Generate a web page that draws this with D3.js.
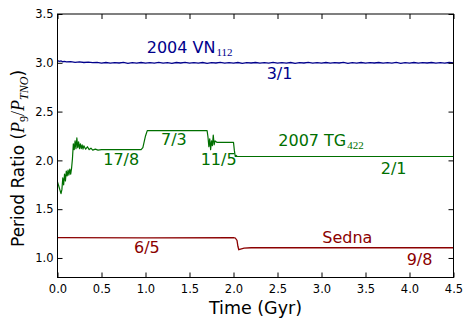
<!DOCTYPE html>
<html><head><meta charset="utf-8">
<script src="https://cdn.jsdelivr.net/npm/d3@7"></script>
<style>
html,body{margin:0;padding:0;background:#fff;}
svg{display:block;}
text{font-family:"DejaVu Sans",sans-serif;}
</style></head>
<body><svg id="c" width="471" height="326"></svg>
<script>
// ---- data ----
const xTicks = [0, 0.5, 1.0, 1.5, 2.0, 2.5, 3.0, 3.5, 4.0, 4.5];
const yTicks = [1.0, 1.5, 2.0, 2.5, 3.0, 3.5];

// 2004 VN112 (blue)
const vnSeries = [[0,3.022],[0.02,3.014],[0.04,3.019],[0.06,3.011],[0.08,3.015],[0.1,3.009],[0.15,3.012],[0.2,3.005],[0.25,3.009],[0.3,3.003],[0.35,3.007],[0.4,3.002],[0.45,3.005],
[0.5,2.997],[0.55,3.003],[0.6,2.996],[0.65,3.002],[0.7,2.998],[0.75,3.004],[0.8,2.995],[0.85,3.002],[0.9,2.997],[0.95,3.003],
[1.0,2.996],[1.05,3.002],[1.1,2.997],[1.15,3.004],[1.2,2.996],[1.25,3.001],[1.3,2.995],[1.35,3.003],[1.4,2.998],[1.45,3.004],
[1.5,2.996],[1.55,3.002],[1.6,2.997],[1.65,3.003],[1.7,2.995],[1.75,3.002],[1.8,2.998],[1.85,3.004],[1.9,2.996],[1.95,3.001],
[2.0,2.997],[2.05,3.003],[2.1,2.995],[2.15,3.002],[2.2,2.998],[2.25,3.003],[2.3,2.996],[2.35,3.002],[2.4,2.997],[2.45,3.004],
[2.5,2.996],[2.55,3.001],[2.6,2.997],[2.65,3.003],[2.7,2.995],[2.75,3.002],[2.8,2.998],[2.85,3.004],[2.9,2.996],[2.95,3.002],
[3.0,2.997],[3.05,3.003],[3.1,2.996],[3.15,3.001],[3.2,2.998],[3.25,3.004],[3.3,2.995],[3.35,3.002],[3.4,2.997],[3.45,3.003],
[3.5,2.996],[3.55,3.002],[3.6,2.998],[3.65,3.003],[3.7,2.996],[3.75,3.001],[3.8,2.997],[3.85,3.004],[3.9,2.995],[3.95,3.002],
[4.0,2.997],[4.05,3.003],[4.1,2.996],[4.15,3.002],[4.2,2.998],[4.25,3.003],[4.3,2.996],[4.35,3.001],[4.4,2.997],[4.45,3.003],[4.5,2.998]];

// 2007 TG422 (green)
const tgSeries = [[0.00,1.78],[0.02,1.72],[0.04,1.66],[0.05,1.70],[0.06,1.82],[0.07,1.75],[0.08,1.86],[0.09,1.79],[0.10,1.89],[0.11,1.84],[0.12,1.90],[0.13,1.85],[0.14,1.91],[0.15,1.86],[0.16,1.92],[0.17,2.02],[0.18,2.17],[0.19,2.11],[0.20,2.20],[0.21,2.12],[0.22,2.23],[0.23,2.13],[0.24,2.19],[0.25,2.12],[0.26,2.17],[0.27,2.12],[0.28,2.16],[0.29,2.115],[0.30,2.15],[0.32,2.115],[0.34,2.14],[0.36,2.11],[0.38,2.125],[0.40,2.105],[0.43,2.115],[0.46,2.105],[0.50,2.11],[0.95,2.11],[0.97,2.13],[1.00,2.25],[1.02,2.305],[1.70,2.305],[1.71,2.24],[1.72,2.14],[1.73,2.22],[1.74,2.11],[1.75,2.20],[1.76,2.15],[1.77,2.26],[1.78,2.16],[1.79,2.20],[1.81,2.185],[2.00,2.185],[2.01,2.10],[2.02,2.04],[2.03,2.05],[2.04,2.04],[4.50,2.04]];

// Sedna (red)
const sednaSeries = [[0,1.208],[1.0,1.207],[2.0,1.208],[2.02,1.205],[2.04,1.18],[2.05,1.12],[2.06,1.085],[2.08,1.09],[2.12,1.10],[2.2,1.105],[4.5,1.105]];

const seriesColors = {vn:"#00008b", tg:"#006f00", sedna:"#8b0000"};

// labels: [text, subscript, time, ratio, colorKey]
const labels = [
  ["2004 VN", "112", 1.014, 3.103, "vn"],
  ["3/1", "", 2.377, 2.831, "vn"],
  ["7/3", "", 1.176, 2.158, "tg"],
  ["17/8", "", 0.52, 1.953, "tg"],
  ["11/5", "", 1.627, 1.953, "tg"],
  ["2007 TG", "422", 2.509, 2.151, "tg"],
  ["2/1", "", 3.673, 1.861, "tg"],
  ["6/5", "", 0.869, 1.048, "sedna"],
  ["Sedna", "", 3.009, 1.15, "sedna"],
  ["9/8", "", 3.968, 0.928, "sedna"]
];

// ---- chart ----
const svg = d3.select("#c");
const L = 57.5, R = 453.5, T = 14, B = 277.5;
const x = d3.scaleLinear().domain([0, 4.5]).range([L, R]);
const y = d3.scaleLinear().domain([0.8, 3.5]).range([B, T]);

const line = d3.line().x(d => x(d[0])).y(d => y(d[1]));
const plot = svg.append("g");
plot.append("path").datum(sednaSeries).attr("d", line).attr("fill","none").attr("stroke",seriesColors.sedna).attr("stroke-width",1.3);
plot.append("path").datum(tgSeries).attr("d", line).attr("fill","none").attr("stroke",seriesColors.tg).attr("stroke-width",1.2).attr("stroke-linejoin","round");
plot.append("path").datum(vnSeries).attr("d", line).attr("fill","none").attr("stroke",seriesColors.vn).attr("stroke-width",1.3);

// axes
const tickFont = 11.5;
const gx = svg.append("g").attr("transform",`translate(0,${B})`)
  .call(d3.axisBottom(x).tickValues(xTicks).tickFormat(d3.format(".1f")).tickSizeInner(-5).tickSizeOuter(0).tickPadding(7));
const gy = svg.append("g").attr("transform",`translate(${L},0)`)
  .call(d3.axisLeft(y).tickValues(yTicks).tickFormat(d3.format(".1f")).tickSizeInner(-5).tickSizeOuter(0).tickPadding(4));
const gt = svg.append("g").attr("transform",`translate(0,${T})`)
  .call(d3.axisTop(x).tickValues(xTicks).tickFormat("").tickSizeInner(-5).tickSizeOuter(0));
const gr = svg.append("g").attr("transform",`translate(${R},0)`)
  .call(d3.axisRight(y).tickValues(yTicks).tickFormat("").tickSizeInner(-5).tickSizeOuter(0));
[gx,gy,gt,gr].forEach(g => {
  g.select(".domain").remove();
  g.selectAll("line").attr("stroke","#000").attr("stroke-width",1);
  g.selectAll("text").attr("font-family","DejaVu Sans").attr("font-size",tickFont).attr("fill","#000");
});

svg.append("rect").attr("x",L).attr("y",T).attr("width",R-L).attr("height",B-T)
  .attr("fill","none").attr("stroke","#000").attr("stroke-width",1);

// series labels
labels.forEach(([t, sub, tx, ty, c]) => {
  const txt = svg.append("text").attr("x", x(tx)).attr("y", y(ty))
    .attr("font-size", 16).attr("fill", seriesColors[c]).text(t);
  if (sub) {
    txt.append("tspan").attr("font-family","Liberation Serif").attr("font-size",11)
      .attr("dy",3.5).attr("dx",1).text(sub);
  }
});

// axis titles
svg.append("text").attr("x",(L+R)/2).attr("y",313.5).attr("text-anchor","middle")
  .attr("font-size",17.5).attr("fill","#000").text("Time (Gyr)");

const yl = svg.append("text").attr("transform",`translate(23.5,247) rotate(-90)`)
  .attr("text-anchor","start").attr("font-size",17).attr("fill","#000");
yl.append("tspan").text("Period Ratio (");
yl.append("tspan").attr("font-family","Liberation Serif").attr("font-style","italic").attr("font-size",18).text("P");
yl.append("tspan").attr("font-family","Liberation Serif").attr("font-size",12).attr("dy",4).text("9");
yl.append("tspan").attr("font-family","Liberation Serif").attr("font-size",18).attr("dy",-4).text("/");
yl.append("tspan").attr("font-family","Liberation Serif").attr("font-style","italic").attr("font-size",18).text("P");
yl.append("tspan").attr("font-family","Liberation Serif").attr("font-style","italic").attr("font-size",12).attr("dy",4).text("TNO");
yl.append("tspan").attr("dy",-4).text(")");
</script>
</body></html>
